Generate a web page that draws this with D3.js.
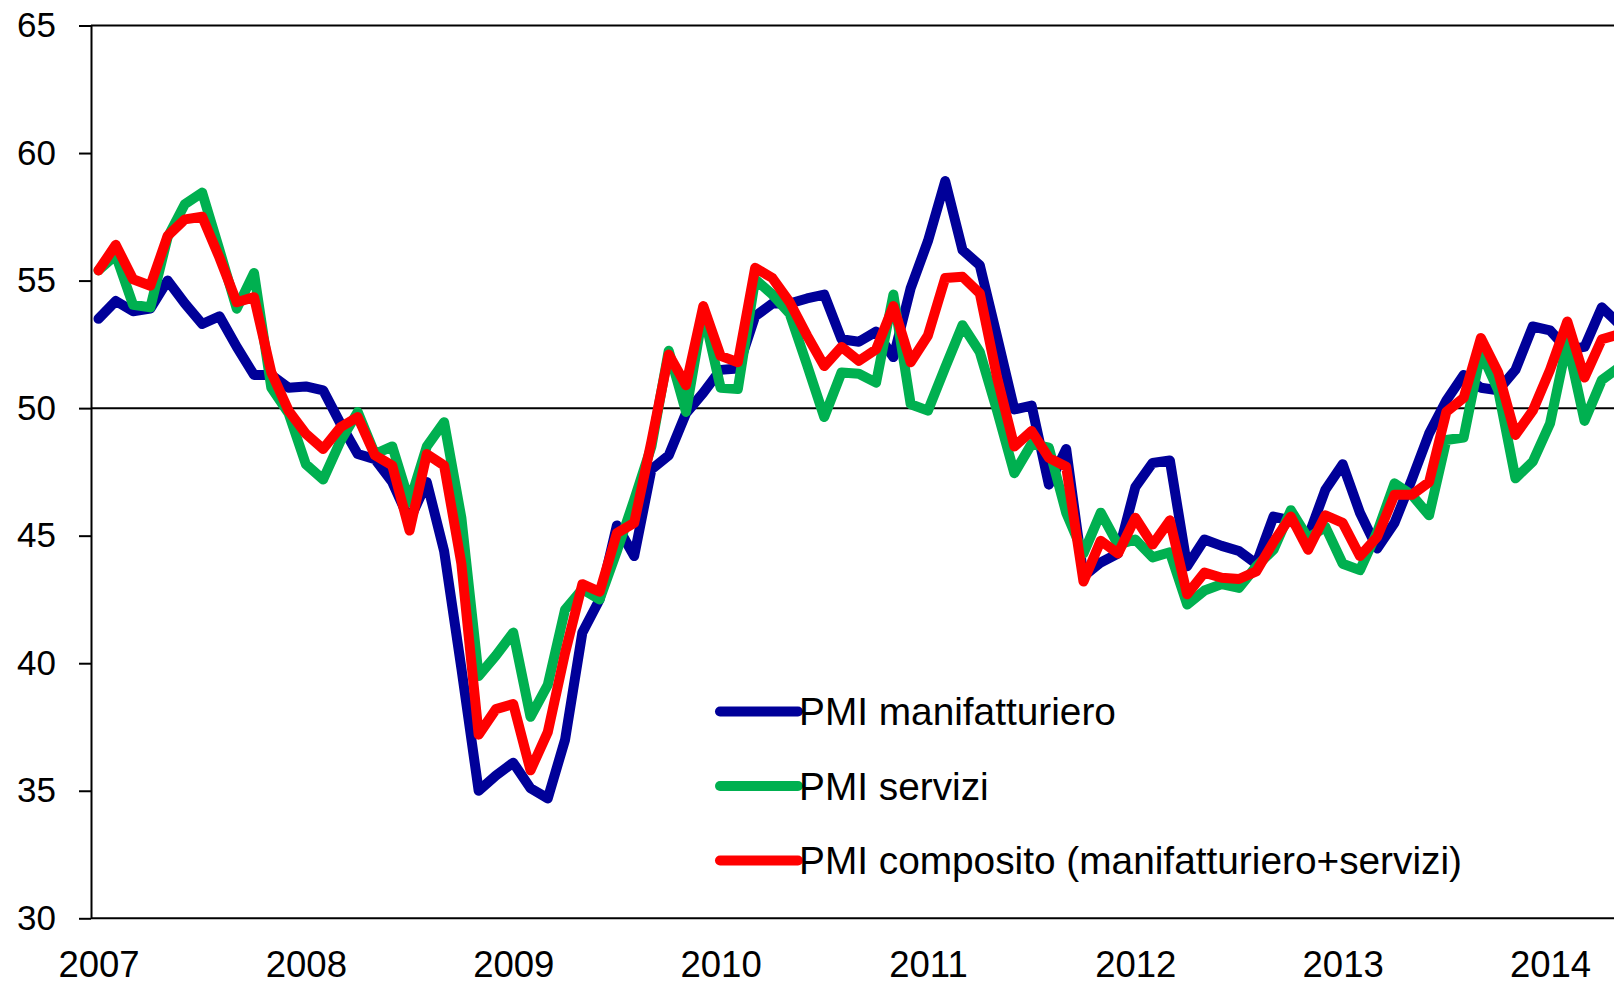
<!DOCTYPE html>
<html>
<head>
<meta charset="utf-8">
<script src="https://cdn.jsdelivr.net/npm/d3@7"></script>
<style>
  body { margin: 0; background: #fff; }
  svg { display: block; }
  text { font-family: "Liberation Sans", Arial, sans-serif; fill: #000; }
</style>
</head>
<body>
<div id="chart"></div>
<script>
// monthly PMI, Jan 2007 .. May 2014
var months = d3.timeMonth.range(new Date(2007, 0, 1), new Date(2014, 5, 1));

var manifatturiero = [
  53.5, 54.2, 53.8, 53.9, 55.0, 54.1, 53.3, 53.6, 52.4, 51.3, 51.3, 50.8,
  50.85, 50.7, 49.4, 48.2, 48.0, 47.1, 45.6, 47.1, 44.4, 39.8, 35.0, 35.6,
  36.1, 35.1, 34.7, 37.0, 41.2, 42.5, 45.4, 44.2, 47.6, 48.15, 49.8, 50.6,
  51.5, 51.55, 53.6, 54.1, 54.1, 54.3, 54.45, 52.7, 52.6, 53.0, 52.0, 54.7,
  56.55, 58.9, 56.2, 55.6, 52.8, 49.95, 50.1, 47.0, 48.4, 43.4, 43.95, 44.3,
  46.9, 47.85, 47.95, 43.8, 44.85, 44.6, 44.4, 43.9, 45.75, 45.6, 44.95, 46.8,
  47.8, 45.9, 44.5, 45.5, 47.2, 49.0, 50.3, 51.3, 50.8, 50.7, 51.5, 53.2,
  53.05, 52.3, 52.4, 53.95, 53.3
];
var servizi = [
  55.4, 56.0, 54.05, 53.95, 56.7, 58.0, 58.45, 56.2, 53.9, 55.3, 50.8, 49.8,
  47.8, 47.2, 48.7, 49.85, 48.2, 48.5, 46.3, 48.5, 49.45, 45.7, 39.5, 40.3,
  41.2, 37.9, 39.15, 42.1, 42.9, 42.5, 44.4, 46.4, 48.5, 52.25, 49.85, 53.8,
  50.8, 50.75, 55.05, 54.45, 53.7, 51.7, 49.65, 51.4, 51.35, 51.0, 54.45, 50.15,
  49.9, 51.6, 53.25, 52.2, 49.9, 47.45, 48.6, 48.45, 45.9, 44.3, 45.9, 44.65,
  44.85, 44.15, 44.35, 42.3, 42.85, 43.1, 42.95, 43.8, 44.45, 46.0, 44.9, 45.35,
  43.9, 43.65, 45.15, 47.05, 46.6, 45.8, 48.75, 48.85, 52.2, 50.7, 47.25, 47.9,
  49.4, 52.6, 49.5, 51.1, 51.6
];
var composito = [
  55.4, 56.4, 55.05, 54.8, 56.75, 57.4, 57.5, 55.9, 54.15, 54.35, 51.4, 49.9,
  49.0, 48.4, 49.25, 49.65, 48.15, 47.75, 45.2, 48.2, 47.75, 43.9, 37.2, 38.2,
  38.4, 35.8, 37.3, 40.4, 43.1, 42.8, 45.1, 45.5, 48.7, 52.1, 50.9, 54.0,
  52.05, 51.8, 55.5, 55.1, 54.15, 52.85, 51.65, 52.4, 51.85, 52.3, 54.0, 51.8,
  52.85, 55.1, 55.15, 54.5, 51.2, 48.5, 49.1, 48.05, 47.7, 43.2, 44.8, 44.3,
  45.7, 44.65, 45.6, 42.7, 43.55, 43.35, 43.3, 43.6, 44.75, 45.75, 44.45, 45.8,
  45.5, 44.2, 44.95, 46.6, 46.6, 47.1, 49.85, 50.4, 52.75, 51.4, 48.95, 49.9,
  51.5, 53.4, 51.2, 52.7, 52.9
];

var seriesNames = ["PMI manifatturiero", "PMI servizi", "PMI composito (manifatturiero+servizi)"];
var seriesColors = ["#000099", "#00b050", "#ff0000"];
var yTicks = [30, 35, 40, 45, 50, 55, 60, 65];
var yearTicks = ["2007", "2008", "2009", "2010", "2011", "2012", "2013", "2014"];

var W = 1614, H = 984;
var axisX = 91, step = 17.28;

var svg = d3.select("#chart").append("svg")
  .attr("width", W)
  .attr("height", H);

var x = d3.scalePoint()
  .domain(d3.range(months.length))
  .range([98.5, 98.5 + step * (months.length - 1)]);

var y = d3.scaleLinear()
  .domain([30, 65])
  .range([918.3, 25.5]);

// gridlines at 50 and 65
svg.append("g")
  .selectAll("line")
  .data([50, 65])
  .enter().append("line")
  .attr("x1", axisX).attr("x2", W)
  .attr("y1", d => y(d)).attr("y2", d => y(d))
  .attr("stroke", "#000").attr("stroke-width", 2);

// y axis
var gY = svg.append("g")
  .attr("transform", "translate(" + axisX + ",0)")
  .call(d3.axisLeft(y).tickValues(yTicks).tickSize(12).tickSizeOuter(0).tickPadding(23));
gY.select(".domain").attr("stroke-width", 2);
gY.selectAll(".tick line").attr("stroke-width", 2);
gY.selectAll(".tick text")
  .attr("font-size", 35)
  .attr("font-family", "Liberation Sans, Arial, sans-serif");

// x axis (labels at January of each year)
var gX = svg.append("g")
  .attr("transform", "translate(0," + y(30) + ")")
  .call(d3.axisBottom(x)
    .tickValues(yearTicks.map((d, i) => i * 12))
    .tickFormat((d, i) => yearTicks[i])
    .tickSize(0).tickPadding(33));
gX.select(".domain").remove();
gX.selectAll(".tick text")
  .attr("font-size", 36.5)
  .attr("font-family", "Liberation Sans, Arial, sans-serif");
svg.append("line")
  .attr("x1", axisX).attr("x2", W)
  .attr("y1", y(30)).attr("y2", y(30))
  .attr("stroke", "#000").attr("stroke-width", 2);

// lines
var line = d3.line()
  .x((d, i) => x(i))
  .y(d => y(d));

[manifatturiero, servizi, composito].forEach(function(s, k) {
  svg.append("path")
    .datum(s)
    .attr("d", line)
    .attr("fill", "none")
    .attr("stroke", seriesColors[k])
    .attr("stroke-width", 10)
    .attr("stroke-linejoin", "round")
    .attr("stroke-linecap", "round");
});

// legend
var legend = svg.append("g")
  .selectAll("g")
  .data(seriesNames)
  .enter().append("g")
  .attr("transform", (d, i) => "translate(720," + (711.5 + i * 74.5) + ")");

legend.append("line")
  .attr("x1", 0).attr("x2", 78)
  .attr("stroke", (d, i) => seriesColors[i])
  .attr("stroke-width", 10)
  .attr("stroke-linecap", "round");

legend.append("text")
  .attr("x", 79)
  .attr("y", 13.8)
  .attr("font-size", 38.8)
  .text(d => d);
</script>
</body>
</html>
